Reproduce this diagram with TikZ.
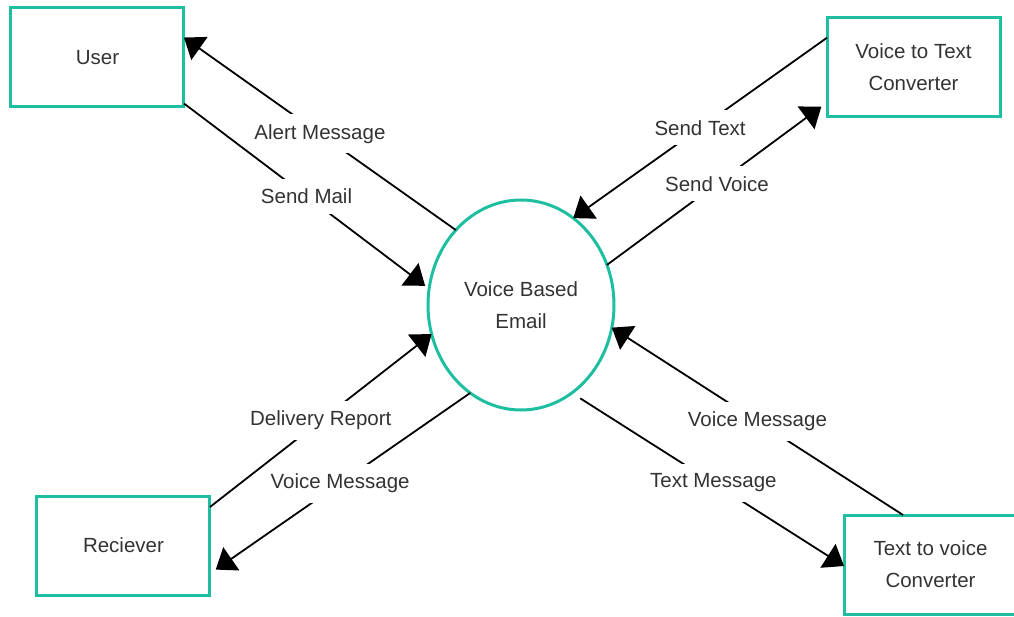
\documentclass[tikz,border=0pt]{standalone}
\usepackage{fontspec}
\setmainfont{Liberation Sans}
\usetikzlibrary{arrows.meta,positioning,shapes.geometric}
\definecolor{boxgreen}{RGB}{30,190,160}

\begin{document}
\begin{tikzpicture}[
    mybox/.style={
    rectangle,
    draw=boxgreen,
    line width=3pt,
    minimum width=173pt,
    minimum height=99pt,
    outer sep=0pt,
    align=center,
    text=black!80,
    font=\fontsize{20.5}{32}\selectfont},
    myellipse/.style={
    ellipse,
    draw=boxgreen,
    line width=3pt,
    minimum width=186pt,
    minimum height=210pt,
    inner sep=0pt,
    outer sep=0pt,
    align=center,
    text=black!80,
    font=\fontsize{20.5}{32}\selectfont},
    myarrow/.style={-{Triangle[length=19pt,width=28pt]},line width=1.8pt},
    mylabel/.style={fill=white,inner xsep=3pt,inner ysep=10pt,text=black!80,
    font=\fontsize{20.5}{24}\selectfont}
    ]

    \useasboundingbox (-521pt,-311pt) rectangle (493pt,305pt);

    \node[myellipse] (e) {Voice Based\\Email};
    \node[mybox, above left = 198pt and 337pt of e.center] (b1) {User};
    \node[mybox, above right = 188pt and 306pt of e.center] (b2) {Voice to Text\\Converter};
    \node[mybox, below left = 191pt and 311pt of e.center] (b3) {Reciever};
    \node[mybox, below right = 210pt and 323pt of e.center] (b4) {Text to voice\\Converter};

    \draw[myarrow] (e.131) -- node[mylabel] {Alert Message} (b1.13);
    \draw[myarrow, shorten >=5pt] (b1.-28) -- node[mylabel] {Send Mail} (e.170);
    \draw[myarrow] (b2.161) -- node[mylabel] {Send Text} (e.59);
    \draw[myarrow, shorten >=7pt] (e.25) -- node[mylabel] {Send Voice} (b2.202);
    \draw[myarrow] (b3.24) -- node[mylabel] {Delivery Report} (e.198);
    \draw[myarrow, shorten >=7pt] (e.240) -- node[mylabel] {Voice Message} (b3.-18);
    \draw[myarrow] (b4.119) -- node[mylabel] {Voice Message} (e.346);
    \draw[myarrow, shorten <=10pt] (e.300) -- node[mylabel, pos=0.52] {Text Message} (b4.181);
\end{tikzpicture}
\end{document}
